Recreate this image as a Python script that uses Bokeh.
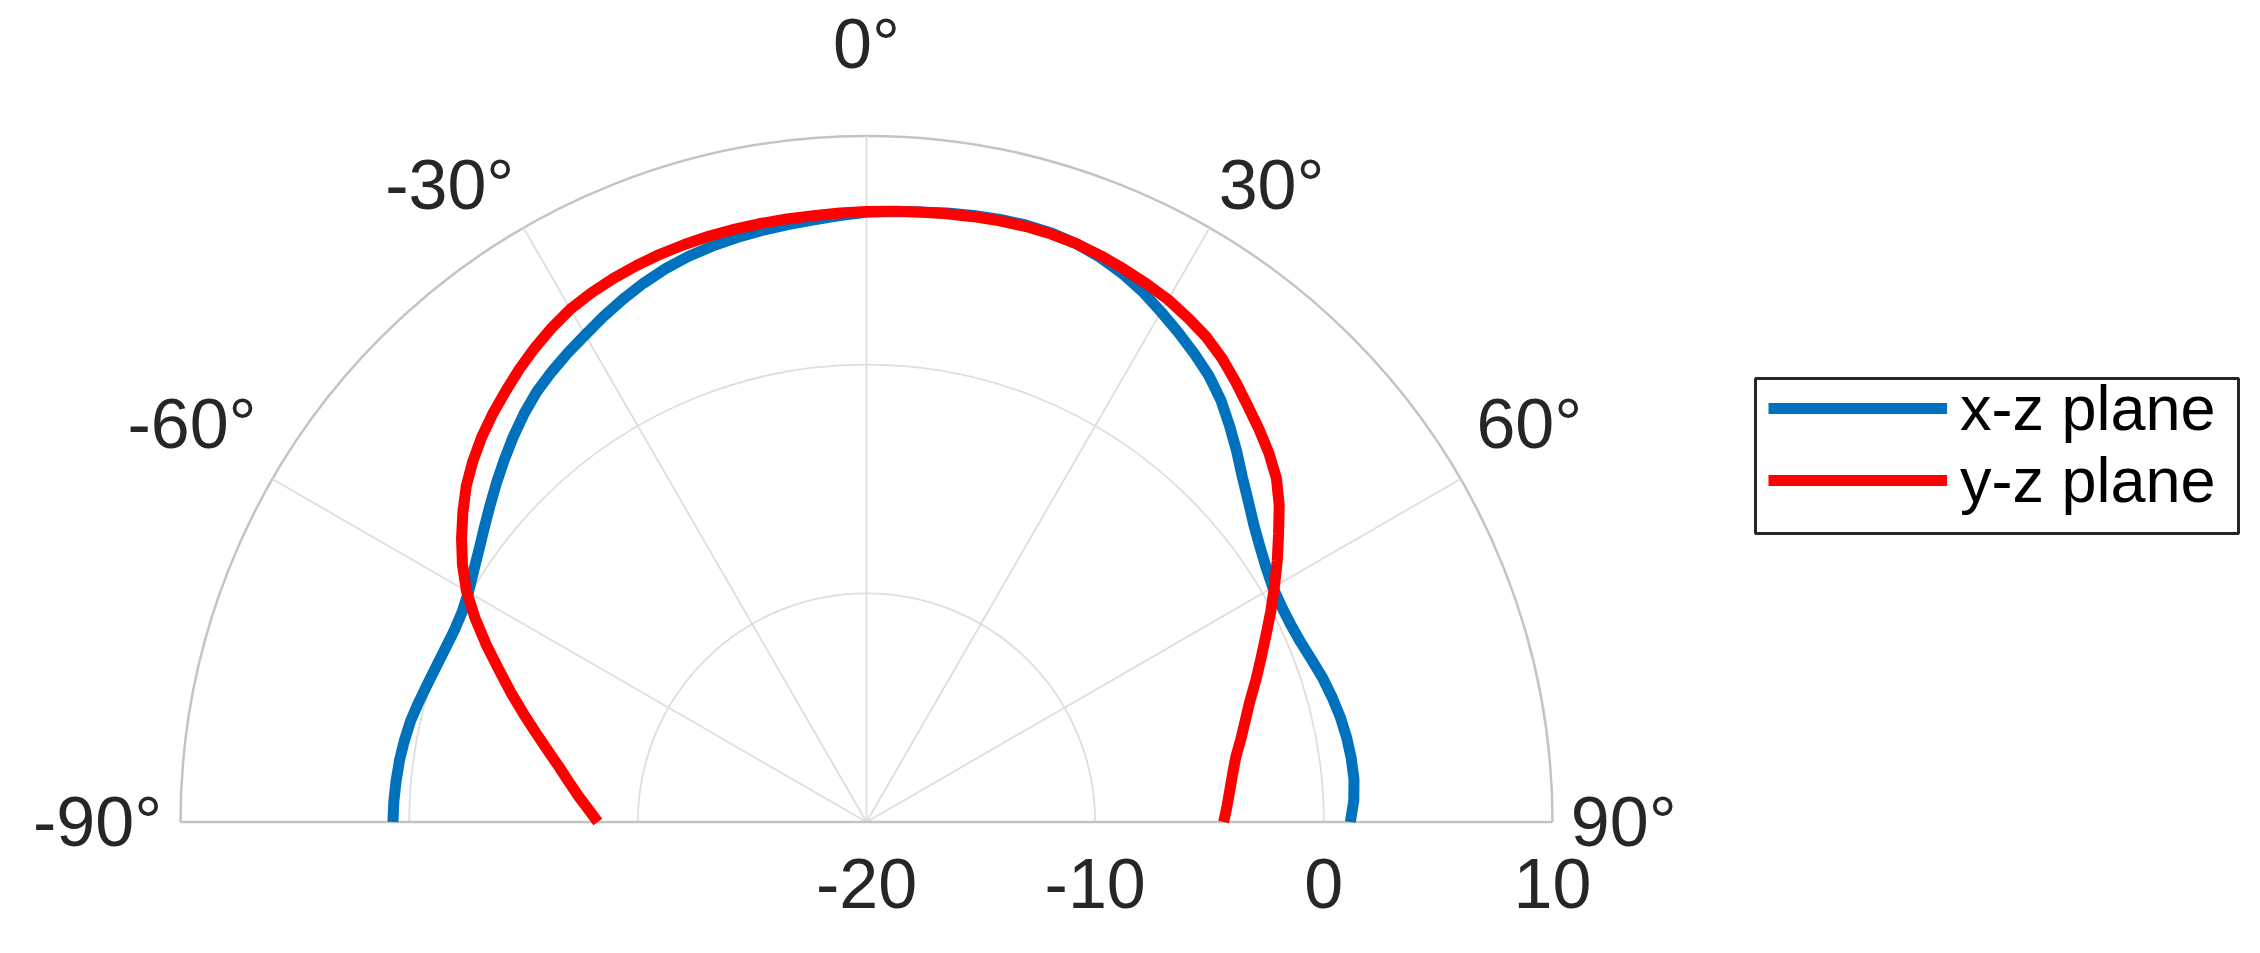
import numpy as np
from bokeh.plotting import figure
from bokeh.models import Range1d, Legend, LegendItem
from bokeh.core.properties import value
from bokeh.embed import file_html
from bokeh.resources import INLINE

# ---- data ----
angles_deg = [-90, -87.5, -85, -82.5, -80, -77.5, -75, -72.5, -70, -67.5, -65, -62.5, -60, -57.5, -55, -52.5,
              -50, -47.5, -45, -42.5, -40, -37.5, -35, -32.5, -30, -27.5, -25, -22.5, -20, -17.5, -15, -12.5,
              -10, -7.5, -5, -2.5, 0, 2.5, 5, 7.5, 10, 12.5, 15, 17.5, 20, 22.5, 25, 27.5, 30, 32.5, 35, 37.5,
              40, 42.5, 45, 47.5, 50, 52.5, 55, 57.5, 60, 62.5, 65, 67.5, 70, 72.5, 75, 77.5, 80, 82.5, 85, 87.5, 90]
xz_plane_db = [0.71, 0.69, 0.65, 0.60, 0.52, 0.42, 0.27, 0.12, 0.0, -0.08, -0.12, -0.07, 0.1, 0.38, 0.7, 1.08,
               1.5, 1.95, 2.4, 2.86, 3.3, 3.7, 4.02, 4.32, 4.6, 4.92, 5.22, 5.5, 5.74, 5.93, 6.07, 6.18,
               6.27, 6.35, 6.43, 6.55, 6.66, 6.72, 6.78, 6.86, 6.93, 6.99, 7.02, 7.0, 6.9, 6.72, 6.47, 6.15, 5.76, 5.38, 5.0, 4.6,
               4.1, 3.5, 2.9, 2.3, 1.8, 1.35, 1.0, 0.72, 0.52, 0.45, 0.46, 0.55, 0.72, 0.92, 1.08, 1.22, 1.32, 1.38, 1.4, 1.33, 1.16]
yz_plane_db = [-8.25, -7.85, -7.38, -6.9, -6.38, -5.75, -5.05, -4.28, -3.45, -2.6, -1.65, -0.7, 0.2, 0.95, 1.62, 2.25,
               2.85, 3.35, 3.8, 4.2, 4.57, 4.95, 5.3, 5.62, 5.9, 6.08, 6.22, 6.33, 6.42, 6.48, 6.53, 6.56,
               6.58, 6.6, 6.62, 6.66, 6.7, 6.74, 6.78, 6.83, 6.88, 6.93, 6.96, 6.95, 6.9, 6.8, 6.67, 6.53, 6.38, 6.15, 5.9, 5.55,
               5.12, 4.68, 4.28, 3.87, 3.4, 2.75, 2.0, 1.3, 0.6, -0.07, -0.73, -1.33, -1.88, -2.42, -2.85, -3.23, -3.6, -3.85, -4.05, -4.22, -4.38]
series_names = ["x-z plane", "y-z plane"]
series_colors = ["#0072BD", "#FF0000"]

r_ticks = [-20, -10, 0, 10]
r_tick_labels = ["-20", "-10", "0", "10"]
theta_ticks = [-90, -60, -30, 0, 30, 60, 90]
theta_tick_labels = ["-90°", "-60°", "-30°", "0°", "30°", "60°", "90°"]

R_MIN, R_MAX = -20, 10
FONT = "Liberation Sans"

# ---- geometry (figure pixels) ----
W, H = 2244, 937
cx_px, cy_px = 866.0, 821.5
R_px = 686.0
span = R_MAX - R_MIN
ppu = R_px / span
x0 = -cx_px / ppu
x1 = (W - cx_px) / ppu
y1 = cy_px / ppu
y0 = -(H - cy_px) / ppu


def px_to_data(px, py):
    return (px - cx_px) / ppu, (cy_px - py) / ppu


p = figure(width=W, height=H, x_range=Range1d(x0, x1), y_range=Range1d(y0, y1),
           x_axis_type=None, y_axis_type=None, toolbar_location=None,
           output_backend="svg", min_border=0, outline_line_color=None,
           background_fill_color="white", border_fill_color="white")
p.grid.visible = False


def to_xy(theta_deg, db):
    t = np.radians(np.asarray(theta_deg, dtype=float))
    r = np.asarray(db, dtype=float) - R_MIN
    return r * np.sin(t), r * np.cos(t)


# grid rings
for rv in r_ticks[1:]:
    outer = rv == R_MAX
    p.arc(x=0, y=0, radius=rv - R_MIN, start_angle=0, end_angle=np.pi,
          line_color="#c4c4c4" if outer else "#dedede", line_width=2.5 if outer else 1.8)
# spokes
for th in theta_ticks[1:-1]:
    xs, ys = to_xy([th, th], [R_MIN, R_MAX])
    p.line(xs, ys, line_color="#dedede", line_width=1.8)
# baseline (-90 .. 90)
bx, by = to_xy([-90, 90], [R_MAX, R_MAX])
p.line(bx, by, line_color="#c4c4c4", line_width=2.5)

# data curves
renderers = []
for col, db in zip(series_colors, [xz_plane_db, yz_plane_db]):
    xs, ys = to_xy(angles_deg, db)
    renderers.append(p.line(xs, ys, line_color=col, line_width=11, line_join="round", line_cap="butt"))

# theta labels (layout: radius and small upward shift per label)
lab_r = 30.8
lab_dy = {90: 0.0, 60: 2.0, 30: 1.2}
side = [t for t in theta_ticks if t != 0]
side_lab = [l for t, l in zip(theta_ticks, theta_tick_labels) if t != 0]
sx, sy = to_xy(side, [lab_r + R_MIN] * len(side))
sy = [y + lab_dy[abs(t)] for y, t in zip(sy, side)]
p.text(x=sx, y=sy, text=side_lab, text_align=["left" if t > 0 else "right" for t in side],
       text_baseline="middle", text_font=value(FONT), text_font_size="70px", text_color="#262626")
p.text(x=[0], y=[32.3], text=[theta_tick_labels[theta_ticks.index(0)]], text_align="center",
       text_baseline="bottom", text_font=value(FONT), text_font_size="70px", text_color="#262626")

# radial labels
rx = [v - R_MIN for v in r_ticks]
p.text(x=rx, y=[-2.7] * len(rx), text=r_tick_labels, text_align="center", text_baseline="middle",
       text_font=value(FONT), text_font_size="70px", text_color="#262626")

# legend frame
lx0, ly0 = px_to_data(1755, 533)
lx1, ly1 = px_to_data(2238, 378)
p.quad(left=[lx0], right=[lx1], bottom=[ly0], top=[ly1], fill_color="white",
       line_color="#262626", line_width=3)

legend = Legend(items=[LegendItem(label=n, renderers=[r]) for n, r in zip(series_names, renderers)],
                location=(1768, 421), orientation="vertical",
                label_text_font=FONT, label_text_font_size="63px",
                label_text_color="#000000", glyph_width=179, glyph_height=40, label_height=40,
                label_standoff=13, padding=0, spacing=0, margin=0,
                border_line_color=None, background_fill_alpha=0.0)
p.add_layout(legend)

open("out.html", "w").write(file_html(p, INLINE))
